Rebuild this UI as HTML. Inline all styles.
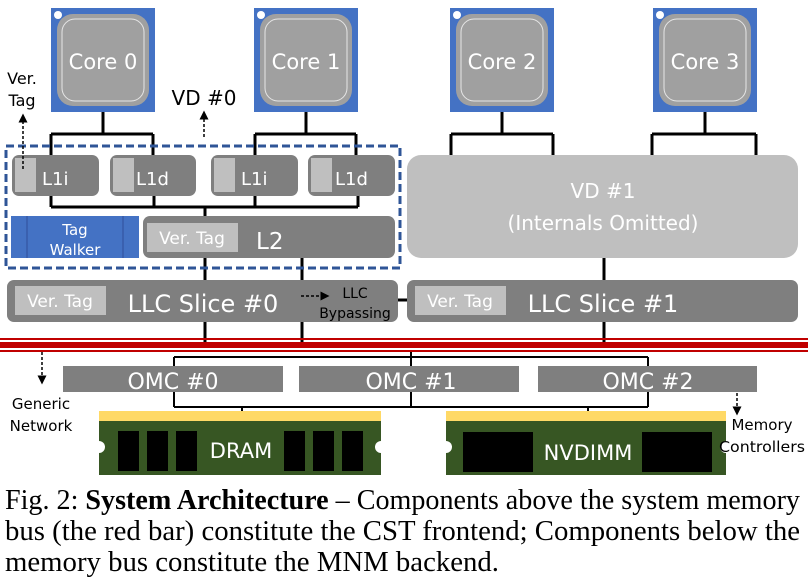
<!DOCTYPE html>
<html><head><meta charset="utf-8"><style>
html,body{margin:0;padding:0;background:#fff;}
svg{display:block;}
.w{fill:#fff;font-family:"DejaVu Sans","Liberation Sans",sans-serif;}
.k{fill:#000;font-family:"DejaVu Sans","Liberation Sans",sans-serif;}
.cap{font-family:"Liberation Serif",serif;font-size:28px;fill:#000;}
</style></head><body>
<svg width="808" height="583" viewBox="0 0 808 583" xmlns="http://www.w3.org/2000/svg">
<defs>
<marker id="ar" markerWidth="6" markerHeight="6" refX="3" refY="3" orient="auto"><path d="M0,0 L6,3 L0,6 z" fill="#000"/></marker>
</defs>
<g>
 <rect x="51" y="8" width="104" height="104" fill="#4472c4"/>
 <rect x="57" y="14" width="92" height="92" rx="16" fill="#a0a0a0"/>
 <rect x="62" y="19" width="82" height="82" rx="13" fill="none" stroke="#e6e6e6" stroke-width="1"/>
 <circle cx="58" cy="15" r="4" fill="#fff"/>
 <text x="103" y="69" class="w" font-size="21" text-anchor="middle">Core 0</text>
</g>
<g>
 <rect x="254" y="8" width="104" height="104" fill="#4472c4"/>
 <rect x="260" y="14" width="92" height="92" rx="16" fill="#a0a0a0"/>
 <rect x="265" y="19" width="82" height="82" rx="13" fill="none" stroke="#e6e6e6" stroke-width="1"/>
 <circle cx="261" cy="15" r="4" fill="#fff"/>
 <text x="306" y="69" class="w" font-size="21" text-anchor="middle">Core 1</text>
</g>
<g>
 <rect x="450" y="8" width="104" height="104" fill="#4472c4"/>
 <rect x="456" y="14" width="92" height="92" rx="16" fill="#a0a0a0"/>
 <rect x="461" y="19" width="82" height="82" rx="13" fill="none" stroke="#e6e6e6" stroke-width="1"/>
 <circle cx="457" cy="15" r="4" fill="#fff"/>
 <text x="502" y="69" class="w" font-size="21" text-anchor="middle">Core 2</text>
</g>
<g>
 <rect x="653" y="8" width="104" height="104" fill="#4472c4"/>
 <rect x="659" y="14" width="92" height="92" rx="16" fill="#a0a0a0"/>
 <rect x="664" y="19" width="82" height="82" rx="13" fill="none" stroke="#e6e6e6" stroke-width="1"/>
 <circle cx="660" cy="15" r="4" fill="#fff"/>
 <text x="705" y="69" class="w" font-size="21" text-anchor="middle">Core 3</text>
</g>
<g stroke="#000" stroke-width="3" fill="none">
 <path d="M103 112 V134 M51 134 H153 M51 134 V155 M153 134 V155"/>
 <path d="M306 112 V134 M255 134 H356 M255 134 V155 M356 134 V155"/>
 <path d="M502 112 V134 M451 134 H553 M451 134 V155 M553 134 V155"/>
 <path d="M705 112 V134 M652 134 H756 M652 134 V155 M756 134 V155"/>
 <path d="M51 207 H358 M51 196 V207 M154 196 V207 M255 196 V207 M358 196 V207 M205 207 V345"/>
 <path d="M302 258 V345 M604 258 V280 M604 322 V345 M398 300 H407"/>
</g>
<rect x="6" y="146" width="394" height="122" fill="none" stroke="#2f5597" stroke-width="3" stroke-dasharray="8,4"/>
<g>
 <rect x="12" y="155" width="87" height="41" rx="7" fill="#7f7f7f"/>
 <rect x="15" y="158" width="21" height="34" fill="#bfbfbf"/>
 <text x="42" y="185" class="w" font-size="18">L1i</text>
 <rect x="110" y="155" width="86" height="41" rx="7" fill="#7f7f7f"/>
 <rect x="113" y="158" width="21" height="34" fill="#bfbfbf"/>
 <text x="136" y="185" class="w" font-size="18">L1d</text>
 <rect x="211" y="155" width="87" height="41" rx="7" fill="#7f7f7f"/>
 <rect x="214" y="158" width="21" height="34" fill="#bfbfbf"/>
 <text x="241" y="185" class="w" font-size="18">L1i</text>
 <rect x="308" y="155" width="87" height="41" rx="7" fill="#7f7f7f"/>
 <rect x="311" y="158" width="21" height="34" fill="#bfbfbf"/>
 <text x="335" y="185" class="w" font-size="18">L1d</text>
</g>
<rect x="11" y="216" width="128" height="42" fill="#4472c4"/>
<path d="M27 216 V258 M123 216 V258" stroke="#2f4f9a" stroke-width="1"/>
<text x="75" y="235" class="w" font-size="15" text-anchor="middle">Tag</text>
<text x="75" y="255" class="w" font-size="15" text-anchor="middle">Walker</text>
<rect x="143" y="216" width="252" height="42" rx="7" fill="#7f7f7f"/>
<rect x="147" y="223" width="91" height="29" fill="#bfbfbf"/>
<text x="192" y="244" class="w" font-size="17" text-anchor="middle">Ver. Tag</text>
<text x="256" y="249" class="w" font-size="23">L2</text>
<rect x="407" y="155" width="391" height="103" rx="14" fill="#bfbfbf"/>
<text x="603" y="198" class="w" font-size="20" text-anchor="middle">VD #1</text>
<text x="603" y="230" class="w" font-size="20" text-anchor="middle">(Internals Omitted)</text>
<rect x="7" y="280" width="391" height="42" rx="7" fill="#7f7f7f"/>
<rect x="15" y="286" width="91" height="29" fill="#bfbfbf"/>
<text x="60" y="307" class="w" font-size="17" text-anchor="middle">Ver. Tag</text>
<text x="203" y="312" class="w" font-size="24" text-anchor="middle">LLC Slice #0</text>
<text x="355" y="298" class="k" font-size="14" text-anchor="middle">LLC</text>
<text x="355" y="318" class="k" font-size="14" text-anchor="middle">Bypassing</text>
<rect x="407" y="280" width="391" height="42" rx="7" fill="#7f7f7f"/>
<rect x="415" y="286" width="91" height="29" fill="#bfbfbf"/>
<text x="460" y="307" class="w" font-size="17" text-anchor="middle">Ver. Tag</text>
<text x="603" y="312" class="w" font-size="24" text-anchor="middle">LLC Slice #1</text>
<g stroke="#000" stroke-width="1.5" stroke-dasharray="3,2" fill="none" marker-end="url(#ar)">
 <path d="M23 169 V118"/>
 <path d="M204 137 V115"/>
 <path d="M301 296 H325"/>
 <path d="M42 352 V380"/>
 <path d="M737 393 V411"/>
</g>
<text x="22" y="84" class="k" font-size="16" text-anchor="middle">Ver.</text>
<text x="22" y="106" class="k" font-size="16" text-anchor="middle">Tag</text>
<text x="204" y="105" class="k" font-size="20" text-anchor="middle">VD #0</text>
<rect x="0" y="338" width="808" height="2" fill="#c00000"/>
<rect x="0" y="342" width="808" height="6" fill="#c00000"/>
<rect x="0" y="350" width="808" height="2" fill="#c00000"/>
<g stroke="#000" stroke-width="2" fill="none">
 <path d="M411 352 V407 M174 357 H648 M174 357 V366 M648 357 V366 M174 392 V407 M648 392 V407 M174 407 H648 M242 407 V412 M588 407 V412"/>
</g>
<rect x="63" y="366" width="220" height="26" fill="#7f7f7f"/>
<text x="173" y="389" class="w" font-size="22" text-anchor="middle">OMC #0</text>
<rect x="299" y="366" width="220" height="26" fill="#7f7f7f"/>
<text x="411" y="389" class="w" font-size="22" text-anchor="middle">OMC #1</text>
<rect x="538" y="366" width="219" height="26" fill="#7f7f7f"/>
<text x="648" y="389" class="w" font-size="22" text-anchor="middle">OMC #2</text>
<rect x="99" y="411" width="282" height="10" fill="#ffd966"/>
<rect x="99" y="421" width="282" height="54" fill="#375623"/>
<circle cx="99" cy="447" r="6" fill="#fff"/>
<circle cx="381" cy="447" r="6" fill="#fff"/>
<rect x="118" y="431" width="21" height="40" fill="#000"/>
<rect x="147" y="431" width="21" height="40" fill="#000"/>
<rect x="176" y="431" width="21" height="40" fill="#000"/>
<rect x="284" y="431" width="21" height="40" fill="#000"/>
<rect x="313" y="431" width="21" height="40" fill="#000"/>
<rect x="342" y="431" width="21" height="40" fill="#000"/>
<text x="241" y="458" class="w" font-size="21" text-anchor="middle">DRAM</text>
<rect x="446" y="411" width="280" height="10" fill="#ffd966"/>
<rect x="446" y="421" width="280" height="54" fill="#375623"/>
<circle cx="446" cy="447" r="6" fill="#fff"/>
<circle cx="726" cy="447" r="6" fill="#fff"/>
<rect x="463" y="432" width="70" height="40" fill="#000"/>
<rect x="642" y="432" width="70" height="40" fill="#000"/>
<text x="588" y="460" class="w" font-size="21" text-anchor="middle">NVDIMM</text>
<text x="41" y="409" class="k" font-size="15" text-anchor="middle">Generic</text>
<text x="41" y="431" class="k" font-size="15" text-anchor="middle">Network</text>
<text x="762" y="430" class="k" font-size="15" text-anchor="middle">Memory</text>
<text x="762" y="452" class="k" font-size="15" text-anchor="middle" textLength="86" lengthAdjust="spacingAndGlyphs">Controllers</text>
<text class="cap" x="5" y="509" textLength="795" lengthAdjust="spacingAndGlyphs">Fig. 2: <tspan font-weight="bold">System Architecture</tspan> – Components above the system memory</text>
<text class="cap" x="5" y="540" textLength="795" lengthAdjust="spacingAndGlyphs">bus (the red bar) constitute the CST frontend; Components below the</text>
<text class="cap" x="5" y="571" textLength="494" lengthAdjust="spacingAndGlyphs">memory bus constitute the MNM backend.</text>
</svg>
</body></html>
